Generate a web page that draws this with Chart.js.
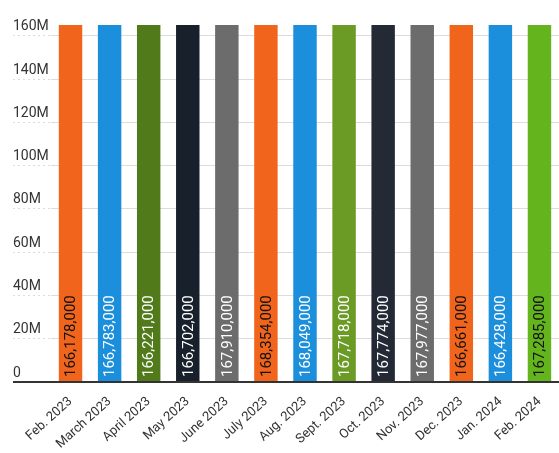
<!DOCTYPE html>
<html>
<head>
<meta charset="utf-8">
<script src="https://cdn.jsdelivr.net/npm/chart.js@4"></script>
<style>
  html, body { margin: 0; padding: 0; background: #fff; }
  #wrap { width: 559px; height: 453px; }
</style>
</head>
<body>
<div id="wrap"><canvas id="myChart"></canvas></div>
<script>
// data
const months = ['Feb. 2023', 'March 2023', 'April 2023', 'May 2023', 'June 2023', 'July 2023',
  'Aug. 2023', 'Sept. 2023', 'Oct. 2023', 'Nov. 2023', 'Dec. 2023', 'Jan. 2024', 'Feb. 2024'];
const values = [166178000, 166783000, 166221000, 166702000, 167910000, 168354000,
  168049000, 167718000, 167774000, 167977000, 166661000, 166428000, 167285000];
const yTicks = [0, 20000000, 40000000, 60000000, 80000000, 100000000, 120000000, 140000000, 160000000];

// bar colours and label colours
const barColors = ['#f0641c', '#1b8fdc', '#517b1b', '#18202b', '#6c6c6c', '#f0641c',
  '#1b8fdc', '#6b9a25', '#232a35', '#6c6c6c', '#f0641c', '#1b8fdc', '#64b41d'];
const labelColors = ['#111', '#fff', '#fff', '#fff', '#fff', '#111',
  '#fff', '#fff', '#fff', '#fff', '#111', '#fff', '#111'];

// vertical value labels inside the bars
const barLabels = {
  id: 'barLabels',
  afterDatasetsDraw(chart) {
    const ctx = chart.ctx;
    const meta = chart.getDatasetMeta(0);
    ctx.save();
    ctx.font = '15px Roboto';
    ctx.textAlign = 'left';
    ctx.textBaseline = 'middle';
    meta.data.forEach((bar, i) => {
      ctx.save();
      ctx.translate(bar.x, bar.base - 4);
      ctx.rotate(-Math.PI / 2);
      ctx.fillStyle = labelColors[i];
      ctx.fillText(values[i].toLocaleString('en-US'), 0, 1);
      ctx.restore();
    });
    ctx.restore();
  }
};

const ctx = document.getElementById('myChart');

new Chart(ctx, {
  type: 'bar',
  data: {
    labels: months,
    datasets: [{
      data: values,
      backgroundColor: barColors,
      borderWidth: 0,
      barPercentage: 0.6,
      categoryPercentage: 1,
      clip: 0
    }]
  },
  options: {
    responsive: true,
    maintainAspectRatio: false,
    animation: false,
    layout: { padding: { left: 13, top: 25, right: 0, bottom: 0 } },
    plugins: {
      legend: { display: false },
      tooltip: { enabled: false }
    },
    scales: {
      x: {
        grid: { display: false },
        border: { display: false },
        ticks: {
          color: '#333',
          font: { family: 'Roboto', size: 13 },
          minRotation: 42,
          maxRotation: 42,
          padding: 4
        },
        afterFit: (scale) => { scale.height = 71; }
      },
      y: {
        min: 0,
        max: 165000000,
        border: { display: false },
        grid: {
          color: (c) => c.tick && c.tick.value === 0 ? '#333' : '#dcdcdc',
          lineWidth: (c) => c.tick && c.tick.value === 0 ? 2 : 1,
          borderDash: (c) => c.tick && c.tick.value === 0 ? [] : [2, 3],
          tickColor: (c) => c.tick && c.tick.value === 0 ? '#333' : '#dcdcdc',
          tickWidth: (c) => c.tick && c.tick.value === 0 ? 2 : 1,
          tickBorderDash: (c) => c.tick && c.tick.value === 0 ? [] : [2, 3],
          tickLength: 38
        },
        ticks: {
          color: '#333',
          font: { family: 'Roboto', size: 14 },
          crossAlign: 'far',
          labelOffset: -9,
          callback: (v) => v === 0 ? '0' : (v / 1000000) + 'M'
        },
        afterBuildTicks: (scale) => {
          scale.ticks = yTicks.map(v => ({ value: v }));
        },
        afterFit: (scale) => { scale.width = 38; }
      }
    }
  },
  plugins: [barLabels]
});
</script>
</body>
</html>
